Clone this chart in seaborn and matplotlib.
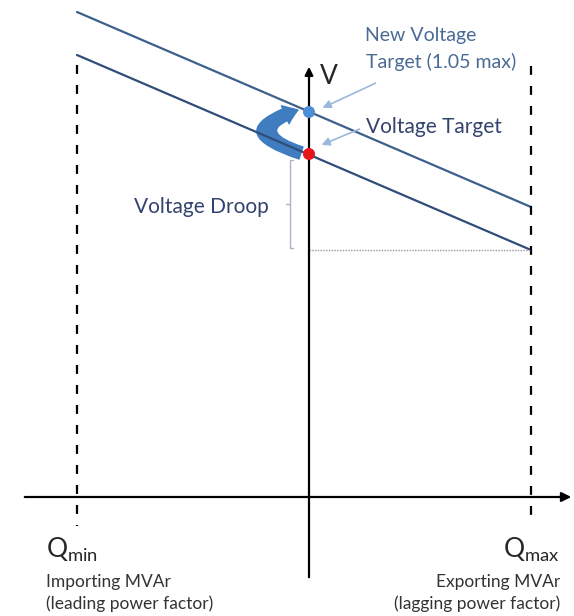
import matplotlib
matplotlib.use("Agg")
import matplotlib.pyplot as plt
import seaborn as sns
import pandas as pd
from matplotlib.patches import FancyArrowPatch
from matplotlib.path import Path

sns.set_style("white")
plt.rcParams["font.family"] = ["Lato", "DejaVu Sans"]

# diagram coordinates (pixel-like units, y grows downward)
q_min, q_zero, q_max = 77, 309, 531
droop_x = [77, 531]
current_line_y = [55, 250]
new_line_y = [12, 207]
target_y = 154
new_target_y = 112
axis_y = 497

lines = pd.DataFrame({
    "q": droop_x + droop_x,
    "v": current_line_y + new_line_y,
    "curve": ["current"] * 2 + ["new"] * 2,
})
points = pd.DataFrame({"q": [q_zero, q_zero], "v": [target_y, new_target_y],
                       "kind": ["target", "new"]})

fig = plt.figure(figsize=(5.74, 6.16), dpi=100)
ax = fig.add_axes([0, 0, 1, 1])
ax.set_xlim(0, 574)
ax.set_ylim(616, 0)
ax.axis("off")

dark = "#2f4d78"
sns.lineplot(data=lines, x="q", y="v", hue="curve", palette={"current": dark, "new": "#3c5f8c"},
             ax=ax, legend=False, linewidth=1.6, estimator=None, sort=False)

# Q axis and V axis
ax.annotate("", xy=(574, axis_y), xytext=(22, axis_y),
            arrowprops=dict(arrowstyle="-|>", color="black", lw=1.6, mutation_scale=14))
ax.annotate("", xy=(q_zero, 64), xytext=(q_zero, 580),
            arrowprops=dict(arrowstyle="-|>", color="black", lw=1.6, mutation_scale=12))
ax.text(q_zero + 11, 77, "V", fontsize=19, va="center", ha="left")

# Qmin / Qmax limits
ax.plot([q_min, q_min], [65, 526], color="black", lw=1.6, ls=(0, (4, 5)))
ax.plot([q_max, q_max], [66, 526], color="black", lw=1.6, ls=(0, (4, 5)))

# droop reference
ax.plot([q_zero, q_max], [current_line_y[1], current_line_y[1]], color="#999999", lw=1, ls=(0, (1, 1)))
ax.plot([293, 290, 290, 293], [160, 160, 248, 248], color="#aab4c4", lw=1)
ax.plot([290, 286], [204, 204], color="#aab4c4", lw=1)
ax.text(269, 207, "Voltage Droop", fontsize=15, color="#33436e", ha="right", va="center")

# curved arrow from target to new target
swing = Path([(301, 153), (234, 131), (298, 110)],
             [Path.MOVETO, Path.CURVE3, Path.CURVE3])
ax.add_patch(FancyArrowPatch(path=swing,
                             arrowstyle="simple,head_width=1.0,head_length=0.7,tail_width=0.65",
                             mutation_scale=14, color="#3f7cc0"))

sns.scatterplot(data=points, x="q", y="v", hue="kind",
                palette={"target": "#e8141b", "new": "#4d8fd6"}, s=75,
                edgecolor="none", ax=ax, legend=False, zorder=5)
ax.set_xlabel("")
ax.set_ylabel("")

# labels
ax.text(365, 35, "New Voltage", fontsize=14, color="#4a6a96", ha="left", va="center")
ax.text(366, 62, "Target (1.05 max)", fontsize=14, color="#4a6a96", ha="left", va="center")
ax.annotate("", xy=(320, 109), xytext=(378, 82),
            arrowprops=dict(arrowstyle="-|>", color="#9bb7da", lw=1.2, mutation_scale=12))
ax.text(366, 127, "Voltage Target", fontsize=15, color="#33436e", ha="left", va="center")
ax.annotate("", xy=(319, 146), xytext=(362, 128),
            arrowprops=dict(arrowstyle="-|>", color="#9bb7da", lw=1.2, mutation_scale=12))

ax.text(46, 550, r"$\mathregular{Q_{min}}$", fontsize=19, ha="left", va="center")
ax.text(46, 582, "Importing MVAr", fontsize=12.5, ha="left", va="center", color="#333333")
ax.text(46, 604, "(leading power factor)", fontsize=12.5, ha="left", va="center", color="#333333")
ax.text(560, 550, r"$\mathregular{Q_{max}}$", fontsize=19, ha="right", va="center")
ax.text(560, 582, "Exporting MVAr", fontsize=12.5, ha="right", va="center", color="#333333")
ax.text(560, 604, "(lagging power factor)", fontsize=12.5, ha="right", va="center", color="#333333")

fig.savefig("out.png", dpi=100)
